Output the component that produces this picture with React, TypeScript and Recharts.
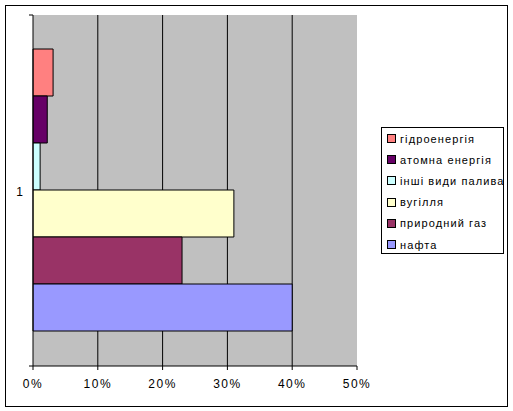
import { Bar, BarChart, CartesianGrid, XAxis, YAxis } from 'recharts';

const CATEGORIES = ['1'];
// top to bottom, same as the legend
const SERIES_NAMES = ['гідроенергія', 'атомна енергія', 'інші види палива', 'вугілля', 'природний газ', 'нафта'];
const SERIES_VALUES = [0.031, 0.022, 0.011, 0.31, 0.23, 0.4];
const SERIES_COLORS = ['#FF8080', '#660066', '#CCFFFF', '#FFFFCC', '#993366', '#9999FF'];
const X_TICKS = [0, 0.1, 0.2, 0.3, 0.4, 0.5];
const GRID_VALUES = [0.1, 0.2, 0.3, 0.4];

const W = 513;
const H = 411;
const MARGIN = { top: 15, right: 156, bottom: 15, left: 5 };
const Y_AXIS_W = 28;
const X_AXIS_H = 30;
const PLOT_LEFT = MARGIN.left + Y_AXIS_W;
const PLOT_H = H - MARGIN.top - MARGIN.bottom - X_AXIS_H;

const FONT = '"Liberation Sans", Arial, sans-serif';

const data = CATEGORIES.map((category) => {
  const row: Record<string, string | number> = { category };
  SERIES_NAMES.forEach((name, i) => {
    row[name] = SERIES_VALUES[i];
  });
  return row;
});

function CategoryTick(props: any) {
  const { y, payload } = props;
  return (
    <g>
      <text x={PLOT_LEFT - 10} y={y} dy={5} textAnchor="end" fontSize={12} fontFamily={FONT} fill="#000">
        {payload.value}
      </text>
      <line x1={PLOT_LEFT - 4} x2={PLOT_LEFT} y1={y - PLOT_H / 2} y2={y - PLOT_H / 2} stroke="#000" />
      <line x1={PLOT_LEFT - 4} x2={PLOT_LEFT} y1={y + PLOT_H / 2} y2={y + PLOT_H / 2} stroke="#000" />
    </g>
  );
}

function LegendBox() {
  return (
    <div
      style={{
        position: 'absolute',
        left: 381,
        top: 127,
        width: 123,
        height: 127,
        boxSizing: 'border-box',
        border: '1px solid #000',
        background: '#fff',
        fontFamily: FONT,
        fontSize: 11,
        letterSpacing: '1.1px',
        color: '#000'
      }}
    >
      {SERIES_NAMES.map((name, i) => (
        <div key={name} style={{ position: 'absolute', left: 5, top: i * 21.2, height: 21, display: 'flex', alignItems: 'center', whiteSpace: 'nowrap' }}>
          <span
            style={{
              display: 'inline-block',
              width: 7,
              height: 7,
              border: '1px solid #000',
              background: SERIES_COLORS[i],
              marginRight: 4
            }}
          />
          <span>{name}</span>
        </div>
      ))}
    </div>
  );
}

export default function App() {
  return (
    <div style={{ position: 'absolute', left: 0, top: 0, width: W, height: H, background: '#fff' }}>
      <div
        style={{
          position: 'absolute',
          left: 5,
          top: 5,
          width: 503,
          height: 402,
          boxSizing: 'border-box',
          border: '1px solid #000'
        }}
      />
      <div style={{ position: 'absolute', left: 0, top: 0 }}>
        <BarChart width={W} height={H} data={data} layout="vertical" margin={MARGIN} barCategoryGap={34} barGap={0}>
          <CartesianGrid
            fill="#C0C0C0"
            fillOpacity={1}
            stroke="#000"
            horizontal={false}
            verticalValues={GRID_VALUES}
          />
          <XAxis
            type="number"
            domain={[0, 0.5]}
            ticks={X_TICKS}
            height={X_AXIS_H}
            axisLine={{ stroke: '#000' }}
            tickLine={{ stroke: '#000' }}
            tickSize={4}
            tickMargin={9}
            tick={{ fill: '#000', fontSize: 12, fontFamily: FONT, letterSpacing: '1.5px' }}
            tickFormatter={(v: number) => `${Math.round(v * 100)}%`}
          />
          <YAxis
            type="category"
            dataKey="category"
            width={Y_AXIS_W}
            axisLine={{ stroke: '#000' }}
            tickLine={false}
            tick={<CategoryTick />}
          />
          {SERIES_NAMES.map((name, i) => (
            <Bar key={name} dataKey={name} fill={SERIES_COLORS[i]} stroke="#000" strokeWidth={1} isAnimationActive={false} />
          ))}
        </BarChart>
      </div>
      <LegendBox />
    </div>
  );
}
